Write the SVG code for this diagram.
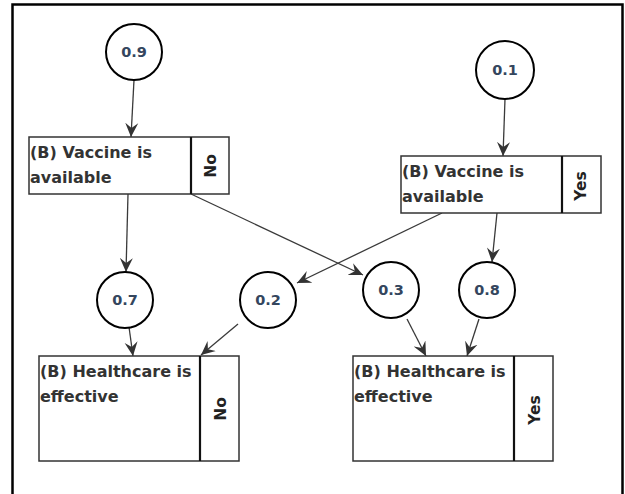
<svg xmlns="http://www.w3.org/2000/svg" width="625" height="494" viewBox="0 0 625 494">
<style>
.frame{fill:none;stroke:#000;stroke-width:2.5}
.box{fill:#fff;stroke:#333;stroke-width:1.5}
.div{stroke:#111;stroke-width:2.2}
.circ{fill:#fff;stroke:#000;stroke-width:2}
.lbl{font-family:"DejaVu Sans",sans-serif;font-weight:bold;font-size:16px;fill:#333}
.state{font-family:"DejaVu Sans",sans-serif;font-weight:bold;font-size:15.5px;fill:#222;text-anchor:middle;dominant-baseline:central}
.prob{font-family:"DejaVu Sans",sans-serif;font-weight:bold;font-size:14.5px;fill:#34465e;text-anchor:middle;dominant-baseline:central}
.edge{fill:none;stroke:#3a3a3a;stroke-width:1.3;marker-end:url(#ah)}
</style>
<defs>
<marker id="ah" viewBox="0 0 14 14" refX="14" refY="7" markerWidth="14" markerHeight="14" markerUnits="userSpaceOnUse" orient="auto">
<path d="M0,0.5 L14,7 L0,13.5 L5,7 Z" fill="#333"/>
</marker>
</defs>
<rect width="625" height="494" fill="#fff"/>
<rect class="frame" x="12.5" y="4.5" width="610" height="500"/>

<g id="connectors">
<line class="edge" x1="134" y1="80" x2="131" y2="137"/>
<line class="edge" x1="505" y1="99" x2="503" y2="156"/>
<line class="edge" x1="128" y1="194" x2="126" y2="272"/>
<line class="edge" x1="191" y1="194" x2="363" y2="275"/>
<line class="edge" x1="442" y1="213" x2="297" y2="283"/>
<line class="edge" x1="497" y1="213" x2="492" y2="262"/>
<line class="edge" x1="129" y1="327" x2="133" y2="356"/>
<line class="edge" x1="238" y1="324" x2="201" y2="355"/>
<line class="edge" x1="407" y1="319" x2="426" y2="356"/>
<line class="edge" x1="479" y1="319" x2="467" y2="356"/>
</g>

<g id="p09"><circle class="circ" cx="134" cy="52" r="28"/><text class="prob" x="134" y="52">0.9</text></g>
<g id="p01"><circle class="circ" cx="505" cy="70" r="29"/><text class="prob" x="505" y="70">0.1</text></g>
<g id="p07"><circle class="circ" cx="125" cy="300" r="28"/><text class="prob" x="125" y="300">0.7</text></g>
<g id="p02"><circle class="circ" cx="268" cy="300" r="28"/><text class="prob" x="268" y="300">0.2</text></g>
<g id="p03"><circle class="circ" cx="391" cy="290" r="28"/><text class="prob" x="391" y="290">0.3</text></g>
<g id="p08"><circle class="circ" cx="487" cy="290" r="28"/><text class="prob" x="487" y="290">0.8</text></g>

<g id="vaccineNo">
<rect class="box" x="29" y="137" width="200" height="57"/>
<line class="div" x1="191" y1="137" x2="191" y2="194"/>
<text class="lbl" x="30" y="158">(B) Vaccine is</text>
<text class="lbl" x="30" y="183">available</text>
<text class="state" transform="translate(211,166) rotate(-90)">No</text>
</g>

<g id="vaccineYes">
<rect class="box" x="401" y="156" width="200" height="57"/>
<line class="div" x1="562" y1="156" x2="562" y2="213"/>
<text class="lbl" x="402" y="177">(B) Vaccine is</text>
<text class="lbl" x="402" y="202">available</text>
<text class="state" transform="translate(581,186) rotate(-90)">Yes</text>
</g>

<g id="healthNo">
<rect class="box" x="39" y="356" width="200" height="105"/>
<line class="div" x1="200" y1="356" x2="200" y2="461"/>
<text class="lbl" x="40" y="377">(B) Healthcare is</text>
<text class="lbl" x="40" y="402">effective</text>
<text class="state" transform="translate(221,409) rotate(-90)">No</text>
</g>

<g id="healthYes">
<rect class="box" x="353" y="356" width="200" height="105"/>
<line class="div" x1="514" y1="356" x2="514" y2="461"/>
<text class="lbl" x="354" y="377">(B) Healthcare is</text>
<text class="lbl" x="354" y="402">effective</text>
<text class="state" transform="translate(535,410) rotate(-90)">Yes</text>
</g>
</svg>
